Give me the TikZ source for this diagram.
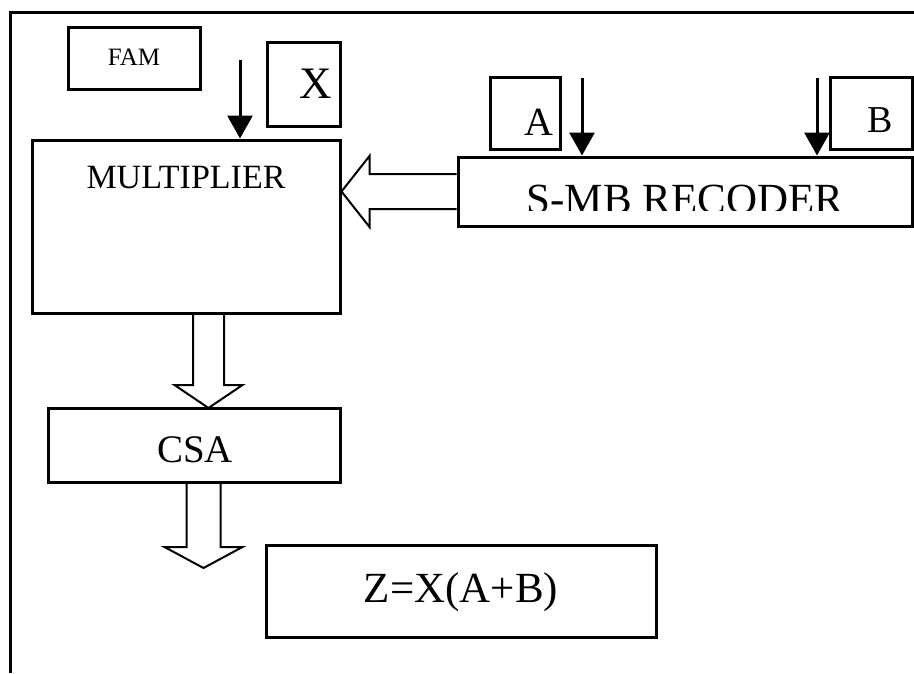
\documentclass[tikz,border=0pt]{standalone}
\usepackage{fontspec}
\setmainfont{Liberation Serif}
\usetikzlibrary{arrows.meta,calc}

\tikzset{
  box/.style={draw,line width=3pt,inner sep=0pt},
  lbl/.style={anchor=base,inner sep=0pt},
  inarrow/.style={line width=3pt,-{Triangle[width=25pt,length=23pt]}},
  blockarr/.style={draw,line width=2pt,line join=miter},
}

\begin{document}
\begin{tikzpicture}[x=1pt,y=-1pt]
  \useasboundingbox (0,0) rectangle (914,673);
  % outer frame, only its left and top edges are in view
  \draw[line width=3pt] (914,12) -- (10,12) -- (10,673);

  % blocks
  \node[box,minimum width=132pt,minimum height=62pt] (fam) at (134,58) {};
  \node[box,minimum width=73pt,minimum height=84pt] (xbox) at (303.5,84) {};
  \node[box,minimum width=308pt,minimum height=173pt] (mult) at (186,226.5) {};
  \node[box,minimum width=70pt,minimum height=72pt] (abox) at (525,113) {};
  \node[box,minimum width=82pt,minimum height=72pt] (bbox) at (871,113) {};
  \node[box,minimum width=454pt,minimum height=69pt] (recoder) at (685,191.5) {};
  \node[box,minimum width=292pt,minimum height=74pt] (csa) at (194,445) {};
  \node[box,minimum width=390pt,minimum height=92pt] (zbox) at (461,591) {};

  % texts
  \node[lbl,font=\fontsize{25pt}{30pt}\selectfont] (famtxt) at (134,65) {FAM};
  \node[lbl,font=\fontsize{45pt}{54pt}\selectfont] (xtxt) at (316,98) {X};
  \node[lbl,font=\fontsize{34pt}{41pt}\selectfont] (multtxt) at (186,188) {MULTIPLIER};
  \node[lbl,font=\fontsize{40pt}{48pt}\selectfont] (atxt) at (539,135) {A};
  \node[lbl,font=\fontsize{38pt}{46pt}\selectfont] (btxt) at (880,132) {B};
  \begin{scope}
    \clip (458,150) rectangle (912,210);
    \node[lbl,font=\fontsize{43pt}{52pt}\selectfont] (rectxt) at (685,213) {S-MB RECODER};
  \end{scope}
  \node[lbl,font=\fontsize{39pt}{47pt}\selectfont] (csatxt) at (195,462) {CSA};
  \node[lbl,font=\fontsize{43pt}{52pt}\selectfont] (ztxt) at (461,602) {Z=X(A+B)};

  % thin input arrows
  \coordinate (famin) at (240,60);
  \coordinate (ain) at (582,78);
  \coordinate (bin) at (817,78);
  \draw[inarrow] (famin) -- (famin |- mult.north);
  \draw[inarrow] (ain) -- (ain |- recoder.north);
  \draw[inarrow] (bin) -- (bin |- recoder.north);

  % wide arrows
  \draw[blockarr] let \p1=(mult.east |- recoder.west), \p2=(recoder.west) in
    (\x2,\y1+17.5pt) -- (\x1+28pt,\y1+17.5pt) -- (\x1+28pt,\y1+35.5pt) -- (\x1,\y1)
    -- (\x1+28pt,\y1-35.5pt) -- (\x1+28pt,\y1-17.5pt) -- (\x2,\y1-17.5pt);
  \coordinate (tipa) at (208.5,408);
  \coordinate (tipb) at (203.5,568);
  \foreach \src/\tip/\hs/\hh/\hl in {mult/tipa/15.5/34/23, csa/tipb/17/39/21}{
    \draw[blockarr] let \p1=(\tip), \p2=(\src.south) in
      (\x1-\hs*1pt,\y2) -- (\x1-\hs*1pt,\y1+\hl*1pt) -- (\x1-\hh*1pt,\y1+\hl*1pt) -- (\x1,\y1)
      -- (\x1+\hh*1pt,\y1+\hl*1pt) -- (\x1+\hs*1pt,\y1+\hl*1pt) -- (\x1+\hs*1pt,\y2);
  }
\end{tikzpicture}
\end{document}
